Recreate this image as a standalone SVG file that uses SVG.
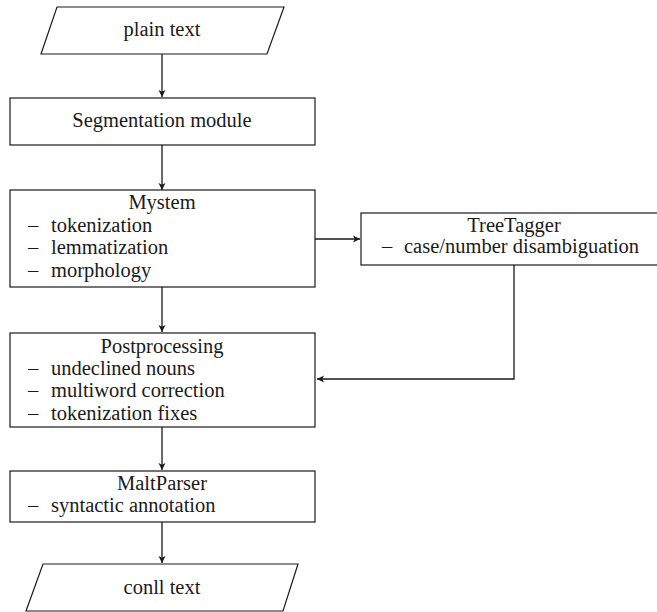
<svg xmlns="http://www.w3.org/2000/svg" width="657" height="612" viewBox="0 0 657 612">
<style>
.box{fill:#fff;stroke:#1a1a1a;stroke-width:1.2}
.t{font-family:'Liberation Serif','Times New Roman',serif;font-size:20.5px;fill:#1a1a1a}
.c{text-anchor:middle}
.edge{fill:none;stroke:#1a1a1a;stroke-width:1.3;marker-end:url(#arr)}
</style>
<defs>
<marker id="arr" markerUnits="userSpaceOnUse" markerWidth="10" markerHeight="10" refX="7" refY="4" orient="auto">
<path d="M0,0.5 L7,4 L0,7.5 L1.8,4 Z" fill="#1a1a1a"/>
</marker>
</defs>
<rect width="657" height="612" fill="#fff"/>
<g id="edges">
<line class="edge" x1="162" y1="54" x2="162" y2="97"/>
<line class="edge" x1="162" y1="145" x2="162" y2="190"/>
<line class="edge" x1="162" y1="287" x2="162" y2="332"/>
<line class="edge" x1="162" y1="427" x2="162" y2="470"/>
<line class="edge" x1="162" y1="522" x2="162" y2="563"/>
<line class="edge" x1="315" y1="239" x2="360" y2="239"/>
<polyline class="edge" points="514,265 514,379 317,379"/>
</g>
<g class="t" font-family="Liberation Serif, serif">
<g id="plain">
<polygon class="box" points="57,7 284,7 267,54 41,54"/>
<text class="c" x="162" y="36">plain text</text>
</g>
<g id="segmentation">
<rect class="box" x="10" y="98" width="305" height="47"/>
<text class="c" x="162" y="127">Segmentation module</text>
</g>
<g id="mystem">
<rect class="box" x="10" y="190" width="305" height="97"/>
<text class="c" x="162" y="209">Mystem</text>
<text><tspan x="28" y="232">– </tspan><tspan x="51" y="232">tokenization</tspan></text>
<text><tspan x="28" y="254">– </tspan><tspan x="51" y="254">lemmatization</tspan></text>
<text><tspan x="28" y="277">– </tspan><tspan x="51" y="277">morphology</tspan></text>
</g>
<g id="treetagger">
<rect class="box" x="361" y="213" width="310" height="52"/>
<text class="c" x="514" y="232">TreeTagger</text>
<text><tspan x="382" y="253">– </tspan><tspan x="404" y="253">case/number disambiguation</tspan></text>
</g>
<g id="postprocessing">
<rect class="box" x="10" y="333" width="305" height="94"/>
<text class="c" x="162" y="353">Postprocessing</text>
<text><tspan x="28" y="375">– </tspan><tspan x="51" y="375">undeclined nouns</tspan></text>
<text><tspan x="28" y="397">– </tspan><tspan x="51" y="397">multiword correction</tspan></text>
<text><tspan x="28" y="420">– </tspan><tspan x="51" y="420">tokenization fixes</tspan></text>
</g>
<g id="maltparser">
<rect class="box" x="10" y="471" width="305" height="51"/>
<text class="c" x="162" y="490">MaltParser</text>
<text><tspan x="28" y="512">– </tspan><tspan x="51" y="512">syntactic annotation</tspan></text>
</g>
<g id="conll">
<polygon class="box" points="43,564 298,564 283,611 26,611"/>
<text class="c" x="162" y="594">conll text</text>
</g>
</g>
</svg>
